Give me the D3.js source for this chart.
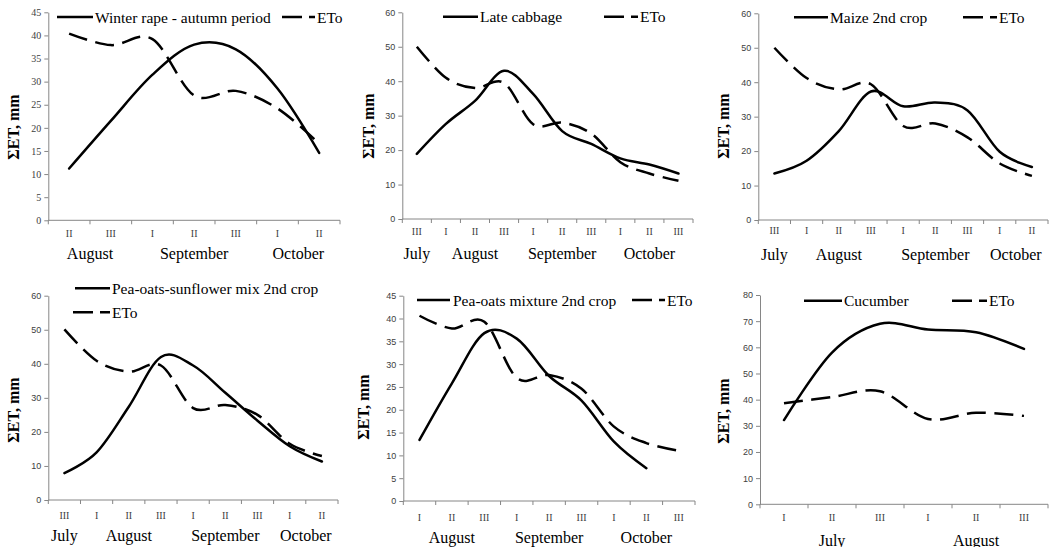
<!DOCTYPE html>
<html>
<head>
<meta charset="utf-8">
<script src="https://cdn.jsdelivr.net/npm/d3@7"></script>
<style>
  body { margin: 0; background: #fff; }
  svg { display: block; }
</style>
</head>
<body>
<svg id="chart" width="1058" height="547"></svg>
<script>
// Ten-day periods (dekads) and their months for each crop
const rapeDekads = ["II", "III", "I", "II", "III", "I", "II"];
const rapeMonths = ["August", "August", "September", "September", "September", "October", "October"];
const rapeET = [11.2, 21.5, 31.5, 38.0, 37.0, 28.5, 14.6];
const rapeETo = [40.4, 37.9, 39.2, 27.0, 28.0, 24.2, 16.6];

const cabbageDekads = ["III", "I", "II", "III", "I", "II", "III", "I", "II", "III"];
const cabbageMonths = ["July", "August", "August", "August", "September", "September", "September", "October", "October", "October"];
const cabbageET = [18.9, 27.6, 34.3, 43.0, 36.3, 25.5, 21.8, 17.6, 15.8, 13.2];
const cabbageETo = [50.0, 41.0, 38.0, 39.5, 27.5, 28.0, 24.8, 16.5, 13.2, 11.1];

const maizeDekads = ["III", "I", "II", "III", "I", "II", "III", "I", "II"];
const maizeMonths = ["July", "August", "August", "August", "September", "September", "September", "October", "October"];
const maizeET = [13.5, 17.2, 25.8, 37.3, 33.0, 34.1, 31.8, 19.8, 15.4];
const maizeETo = [50.0, 41.2, 37.9, 39.4, 27.3, 28.0, 24.0, 16.4, 12.8];

const sunflowerMixDekads = ["III", "I", "II", "III", "I", "II", "III", "I", "II"];
const sunflowerMixMonths = ["July", "August", "August", "August", "September", "September", "September", "October", "October"];
const sunflowerMixET = [7.9, 14.0, 27.4, 42.0, 39.5, 31.5, 23.3, 15.8, 11.3];
const sunflowerMixETo = [50.1, 40.9, 37.7, 39.5, 27.0, 27.9, 25.0, 16.5, 12.9];

const peaOatsDekads = ["I", "II", "III", "I", "II", "III", "I", "II", "III"];
const peaOatsMonths = ["August", "August", "August", "September", "September", "September", "October", "October", "October"];
const peaOatsET = [13.4, 25.8, 36.8, 35.6, 27.4, 22.0, 13.0, 7.2];
const peaOatsETo = [40.6, 37.8, 39.3, 27.0, 27.6, 24.6, 16.3, 12.7, 11.0];

const cucumberDekads = ["I", "II", "III", "I", "II", "III"];
const cucumberMonths = ["July", "July", "July", "August", "August", "August"];
const cucumberET = [32.2, 58.0, 69.0, 66.8, 65.8, 59.4];
const cucumberETo = [38.6, 41.0, 43.2, 32.6, 35.0, 33.8];

const cropNames = ["Winter rape - autumn period", "Late cabbage", "Maize 2nd crop",
  "Pea-oats-sunflower mix 2nd crop", "Pea-oats mixture 2nd crop", "Cucumber"];
const refName = "ETo";
const yTitle = "\u03A3ET, mm";
const yMaxima = [45, 60, 60, 60, 45, 80];
const yStepSizes = [5, 10, 10, 10, 5, 10];

const SERIF = "'Liberation Serif', 'Times New Roman', serif";
const SANS = "'Liberation Sans', Arial, sans-serif";
const AXIS = "#868686";
const TICKTEXT = "#404040";

// Placement of each small chart on the page
const frames = [
  { x0: 48.3, x1: 340, top: 12.3, bot: 220.3, catY: 233, monthY: 253, titleX: 13, titleY: 127, tickFont: SERIF, tickSize: 10,
    legend: { solid: [57, 93, 17], cropX: 95, dash: [282, 315, 17], refX: 317 } },
  { x0: 402.3, x1: 693, top: 12.3, bot: 219, catY: 231, monthY: 253, titleX: 368, titleY: 126, tickFont: SANS, tickSize: 9,
    legend: { solid: [443, 478, 16.7], cropX: 480, dash: [604, 638, 16.7], refX: 640 } },
  { x0: 758.3, x1: 1048, top: 13.3, bot: 220, catY: 230, monthY: 254, titleX: 723, titleY: 126, tickFont: SANS, tickSize: 9,
    legend: { solid: [794, 828, 17.3], cropX: 830, dash: [963, 997, 17.3], refX: 999 } },
  { x0: 48.3, x1: 338, top: 295.7, bot: 500, catY: 515, monthY: 535, titleX: 13, titleY: 410, tickFont: SANS, tickSize: 9,
    legend: { solid: [75, 110, 288.3], cropX: 112, dash: [73, 110, 312.3], refX: 112 } },
  { x0: 403.3, x1: 695, top: 295.7, bot: 501, catY: 517, monthY: 537, titleX: 363, titleY: 407, tickFont: SANS, tickSize: 9,
    legend: { solid: [417, 450, 300], cropX: 453, dash: [632, 665, 300], refX: 667 } },
  { x0: 760, x1: 1048, top: 295, bot: 504.3, catY: 517, monthY: 540, titleX: 723, titleY: 411, tickFont: SANS, tickSize: 9,
    legend: { solid: [804, 842, 300.7], cropX: 844, dash: [952, 987, 300.7], refX: 989 } }
];

const datasets = [
  [rapeDekads, rapeMonths, rapeET, rapeETo],
  [cabbageDekads, cabbageMonths, cabbageET, cabbageETo],
  [maizeDekads, maizeMonths, maizeET, maizeETo],
  [sunflowerMixDekads, sunflowerMixMonths, sunflowerMixET, sunflowerMixETo],
  [peaOatsDekads, peaOatsMonths, peaOatsET, peaOatsETo],
  [cucumberDekads, cucumberMonths, cucumberET, cucumberETo]
];

const svg = d3.select("#chart");
const DASH = "19,8.5";

datasets.forEach(([dekads, months, et, eto], p) => {
  const f = frames[p];
  const g = svg.append("g");
  const idx = d3.range(dekads.length);

  const x = d3.scaleBand().domain(idx).range([f.x0, f.x1]).paddingInner(0).paddingOuter(0);
  const y = d3.scaleLinear().domain([0, yMaxima[p]]).range([f.bot, f.top]);
  const cx = i => x(i) + x.bandwidth() / 2;

  // y axis
  const yAxis = d3.axisLeft(y)
    .tickValues(d3.range(0, yMaxima[p] + 0.001, yStepSizes[p]))
    .tickSizeInner(4).tickSizeOuter(0).tickPadding(3);
  const ya = g.append("g").attr("transform", `translate(${f.x0},0)`).call(yAxis);
  ya.select(".domain").attr("stroke", AXIS);
  ya.selectAll(".tick line").attr("stroke", AXIS);
  ya.selectAll(".tick text").attr("fill", TICKTEXT)
    .style("font-family", f.tickFont).style("font-size", f.tickSize + "px");

  // x axis line with ticks at dekad boundaries
  g.append("line").attr("x1", f.x0).attr("x2", f.x1).attr("y1", f.bot).attr("y2", f.bot)
    .attr("stroke", AXIS);
  g.selectAll(".bnd").data(d3.range(dekads.length + 1)).join("line")
    .attr("x1", i => f.x0 + i * x.step()).attr("x2", i => f.x0 + i * x.step())
    .attr("y1", f.bot).attr("y2", f.bot + 4).attr("stroke", AXIS);

  // dekad labels
  g.selectAll(".dek").data(idx).join("text")
    .attr("x", cx).attr("y", f.catY)
    .attr("text-anchor", "middle").attr("dominant-baseline", "central")
    .style("font-family", SERIF).style("font-size", "10px").attr("fill", TICKTEXT)
    .text(i => dekads[i]);

  // month labels, centred under their run of dekads
  const groups = [];
  months.forEach((m, i) => {
    const last = groups[groups.length - 1];
    if (last && last.name === m) last.end = i; else groups.push({ name: m, start: i, end: i });
  });
  g.selectAll(".mon").data(groups).join("text")
    .attr("x", d => (x(d.start) + x(d.end) + x.bandwidth()) / 2)
    .attr("y", f.monthY)
    .attr("text-anchor", "middle").attr("dominant-baseline", "central")
    .style("font-family", SERIF).style("font-size", "16px").attr("fill", "#000")
    .text(d => d.name);

  // y axis title
  g.append("text")
    .attr("transform", `translate(${f.titleX},${f.titleY}) rotate(-90)`)
    .attr("text-anchor", "middle").attr("dominant-baseline", "central")
    .style("font-family", SERIF).style("font-size", "16px").style("font-weight", "bold")
    .text(yTitle);

  // smoothed series
  const line = d3.line().x((d, i) => cx(i)).y(d => y(d)).curve(d3.curveCardinal.tension(0));
  g.append("path").attr("d", line(eto)).attr("fill", "none").attr("stroke", "#000")
    .attr("stroke-width", 2.5).attr("stroke-dasharray", DASH);
  g.append("path").attr("d", line(et)).attr("fill", "none").attr("stroke", "#000")
    .attr("stroke-width", 2.5).attr("stroke-linecap", "round").attr("stroke-linejoin", "round");

  // legend
  const L = f.legend;
  g.append("line").attr("x1", L.solid[0]).attr("x2", L.solid[1]).attr("y1", L.solid[2]).attr("y2", L.solid[2])
    .attr("stroke", "#000").attr("stroke-width", 2.5);
  g.append("text").attr("x", L.cropX).attr("y", L.solid[2]).attr("dominant-baseline", "central")
    .style("font-family", SERIF).style("font-size", "15.5px").text(cropNames[p]);
  g.append("line").attr("x1", L.dash[0]).attr("x2", L.dash[1]).attr("y1", L.dash[2]).attr("y2", L.dash[2])
    .attr("stroke", "#000").attr("stroke-width", 2.5).attr("stroke-dasharray", "20,7");
  g.append("text").attr("x", L.refX).attr("y", L.dash[2]).attr("dominant-baseline", "central")
    .style("font-family", SERIF).style("font-size", "15.5px").text(refName);
});
</script>
</body>
</html>
